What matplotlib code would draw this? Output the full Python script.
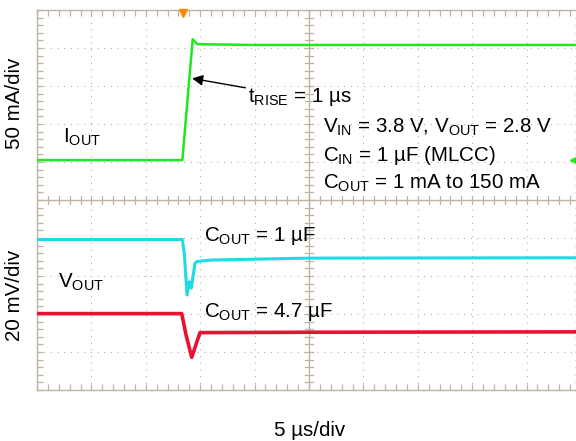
import numpy as np
import matplotlib
matplotlib.use('Agg')
import matplotlib.pyplot as plt

plt.rcParams['font.family'] = ['Liberation Sans', 'DejaVu Sans']
plt.rcParams['mathtext.fontset'] = 'custom'
plt.rcParams['mathtext.rm'] = 'Liberation Sans'

# time in us, amplitude in screen divisions (10 div tall, 5 us/div)
t_iout = [0, 13.36, 14.31, 14.75, 20, 50]
y_iout = [6.05, 6.05, 9.23, 9.10, 9.08, 9.08]

t_v1 = [0, 13.36, 13.54, 13.79, 14.0, 14.18, 14.52, 14.68, 16, 25, 50]
y_v1 = [3.96, 3.96, 3.60, 2.50, 2.85, 2.68, 3.33, 3.38, 3.42, 3.47, 3.48]

t_v47 = [0, 13.3, 13.7, 14.22, 14.98, 25, 50]
y_v47 = [2.01, 2.01, 1.45, 0.86, 1.51, 1.52, 1.53]

frame_c = '#bdb3a0'

fig = plt.figure(figsize=(5.76, 4.41), dpi=100)
ax = fig.add_axes([37/576, 51/441, 544/576, 380/441])
ax.set_xlim(0, 50)
ax.set_ylim(0, 10)

# scope graticule
for gx in np.arange(5, 50, 5):
    if gx != 25:
        ax.axvline(gx, color=frame_c, lw=0.8, ls=(0, (1, 5)), zorder=1)
for gy in np.arange(1, 10, 1):
    if gy != 5:
        ax.axhline(gy, color=frame_c, lw=0.8, ls=(0, (1, 5)), zorder=1)
ax.axvline(25, color=frame_c, lw=1.0, zorder=1)
ax.axhline(5, color=frame_c, lw=1.0, zorder=1)
for mx in np.arange(0, 50.01, 1):
    ax.plot([mx, mx], [4.9, 5.1], color=frame_c, lw=0.9, zorder=1)
for my in np.arange(0, 10.01, 0.2):
    ax.plot([24.6, 25.4], [my, my], color=frame_c, lw=0.9, zorder=1)

ax.set_xticks(np.arange(0, 51, 5))
ax.set_yticks(np.arange(0, 11, 1))
ax.set_xticks(np.arange(0, 51, 1), minor=True)
ax.set_yticks(np.arange(0, 10.01, 0.2), minor=True)
ax.tick_params(which='both', direction='in', top=True, right=True,
               labelbottom=False, labelleft=False, color=frame_c, width=0.9)
ax.tick_params(which='major', length=4)
ax.tick_params(which='minor', length=4)
for s in ax.spines.values():
    s.set_color(frame_c)
    s.set_linewidth(1.0)

# traces
ax.plot(t_iout, y_iout, color='#22e622', lw=1.8, zorder=3)
ax.plot(t_v1, y_v1, color='#1fdbe6', lw=2.2, zorder=3)
ax.plot(t_v47, y_v47, color='#ec1030', lw=2.6, zorder=3)

# markers
ax.plot([13.4], [9.93], marker='v', color='#ff8800', ms=6, clip_on=False, zorder=4)
ax.plot([49.3], [6.05], marker='<', color='#22e622', ms=4, clip_on=False, zorder=4)

fs = 14.8
ax.text(2.4, 6.5, r'$\mathregular{I_{OUT}}$', fontsize=fs)
ax.annotate(r'$\mathregular{t_{RISE}}$ = 1 µs', xy=(14.25, 8.2), xytext=(19.4, 7.7),
            fontsize=fs, va='center',
            arrowprops=dict(arrowstyle='-|>', color='k', lw=1.0, mutation_scale=16,
                            shrinkA=0, shrinkB=0))
ax.text(26.3, 6.9, r'$\mathregular{V_{IN}}$ = 3.8 V, $\mathregular{V_{OUT}}$ = 2.8 V',
        fontsize=fs, va='center')
ax.text(26.3, 6.18, r'$\mathregular{C_{IN}}$ = 1 µF (MLCC)', fontsize=fs, va='center')
ax.text(26.3, 5.45, r'$\mathregular{C_{OUT}}$ = 1 mA to 150 mA', fontsize=fs, va='center')
ax.text(15.35, 4.05, r'$\mathregular{C_{OUT}}$ = 1 µF', fontsize=fs, va='center')
ax.text(1.95, 2.84, r'$\mathregular{V_{OUT}}$', fontsize=fs, va='center')
ax.text(15.35, 2.05, r'$\mathregular{C_{OUT}}$ = 4.7 µF', fontsize=fs, va='center')

fig.text(15/576, 1 - 103/441, '50 mA/div', rotation=90, fontsize=fs, ha='center', va='center')
fig.text(15/576, 1 - 295/441, '20 mV/div', rotation=90, fontsize=fs, ha='center', va='center')
fig.text(310/576, 1 - 431/441, '5 µs/div', fontsize=fs, ha='center', va='center')

fig.savefig('out.png', dpi=100)
